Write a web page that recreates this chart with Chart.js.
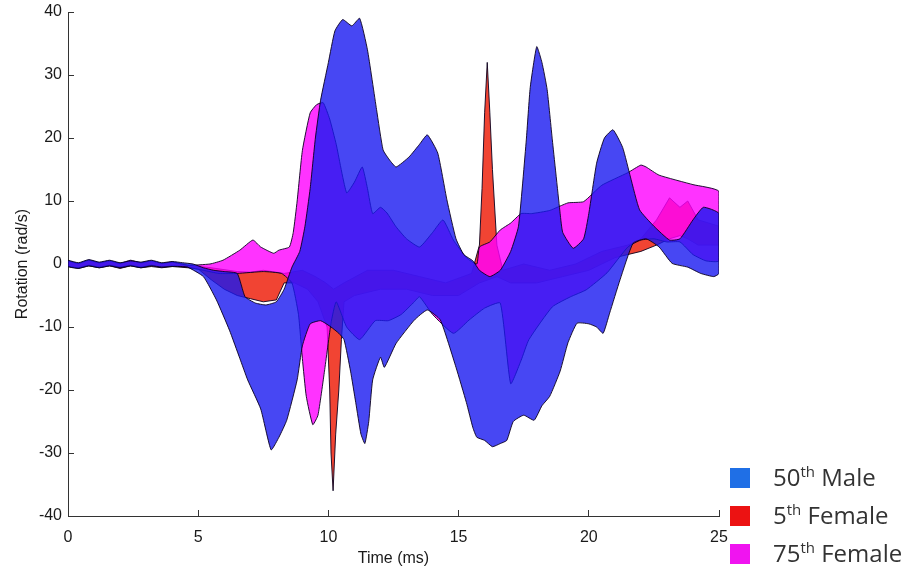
<!DOCTYPE html>
<html>
<head>
<meta charset="utf-8">
<script src="https://cdn.jsdelivr.net/npm/chart.js@4.4.0/dist/chart.umd.min.js"></script>
<style>
  body { margin: 0; background: #fff; }
  #wrap { position: relative; width: 912px; height: 573px; }
  #legend { position: absolute; left: 730px; top: 462px; font-family: "Open Sans", sans-serif; font-size: 24px; color: #333; }
  #legend div { position: relative; height: 38px; line-height: 30px; }
  #legend span.box { position: absolute; left: 0; top: 6px; width: 20px; height: 20px; }
  #legend span.txt { position: absolute; left: 43px; top: 0; white-space: nowrap; }
  #legend sup { font-size: 15px; vertical-align: 9px; line-height: 0; }
</style>
</head>
<body>
<div id="wrap">
  <canvas id="corridorChart" width="912" height="573"></canvas>
  <div id="legend"></div>
</div>
<script>
// corridor boundaries (time in ms, rotation in rad/s)
var blueTopT = [0,0.4,0.8,1.2,1.6,2.0,2.4,2.8,3.2,3.6,4.0,4.4,4.8,5.2,5.6,6.0,6.5,6.8,7.2,7.6,8.0,8.3,8.6,8.9,9.1,9.3,9.5,9.7,10.0,10.25,10.55,10.9,11.2,11.5,11.85,12.1,12.35,12.6,13.1,13.5,13.8,14.2,14.55,14.9,15.2,15.55,15.8,16.2,16.6,17.0,17.3,17.6,17.75,18.0,18.2,18.4,18.6,18.9,19.0,19.4,19.8,20.0,20.3,20.6,20.93,21.3,21.6,21.95,22.5,23.1,23.5,24.0,24.4,25];
var blueTop = [0.6,0.2,0.7,0.3,0.6,0.2,0.5,0.3,0.6,0.2,0.4,0.2,0,-0.6,-1,-1.2,-1.5,-5.2,-6.2,-6.5,-6,-4,-0.5,2,6,12,20,26,32,37,38.8,37.8,39,34,24.5,18.1,16.5,15.4,17,19,20.5,17.6,10.2,4,1.5,0.5,-1,-2,-1,2,6,19.7,28,34.5,32,27.7,19.7,8,5,2.5,4,8,16,20,21.3,18.5,13.8,8.6,6,3.8,4,7,9,8];
var blueBotT = [0,0.4,0.8,1.2,1.6,2.0,2.4,2.8,3.2,3.6,4.0,4.4,4.6,5.2,5.7,6.2,6.6,6.9,7.4,7.8,8.1,8.4,8.8,9.0,9.3,9.7,10.1,10.4,10.6,10.85,11.05,11.25,11.4,11.55,11.7,12.0,12.15,12.6,13.3,13.8,14.3,14.9,15.3,15.55,15.7,16.0,16.3,16.6,16.85,17.1,17.5,17.9,18.2,18.5,18.9,19.2,19.55,20.0,20.3,20.55,20.8,21.2,21.7,22.2,22.7,23.2,23.8,24.3,24.8,25];
var blueBot = [-0.4,-0.7,-0.3,-0.6,-0.3,-0.6,-0.3,-0.6,-0.3,-0.5,-0.4,-0.4,-0.5,-2,-5.7,-10.5,-15,-18.4,-23,-29.5,-27.5,-24.8,-18.4,-13,-9.5,-9,-10,-11,-12,-17,-22,-27,-28.5,-25,-18.4,-14.8,-16.4,-12.6,-8.9,-7.3,-8.9,-16.4,-22,-26,-27.5,-28,-29,-28.5,-28,-25,-24,-24.8,-22.5,-21,-17,-12.5,-9.4,-9.5,-10,-11,-7.8,-2.5,3.3,4,2.7,0.1,-0.5,-1.5,-2,-1.5];

var redTopT = [0,0.4,0.8,1.2,1.6,2.0,2.4,2.8,3.2,3.6,4.0,4.6,5.5,6.5,7.0,7.5,8.0,8.3,9.0,9.5,9.9,10.2,10.6,11.5,12.5,13.5,14.5,15.5,15.8,15.9,16.0,16.1,16.2,16.3,16.47,16.7,17.5,18.5,19.5,20.5,21.5,22.0,22.6,23.1,23.5,23.8,24.2,25];
var redTop = [0.4,0,0.5,0.1,0.4,0,0.5,0.1,0.4,0,0.3,-0.2,-0.6,-1.2,-1.3,-1,-1.3,-1.5,-1,-2,-3,-4,-3,-1,-1,-2,-3,-1.5,3,12,24,32,24,15,3,-1,0,-1,0,2,3,4,7,10.5,9,10,7,6];
var redBotT = [0,0.4,0.8,1.2,1.6,2.0,2.4,2.8,3.2,3.6,4.0,4.6,5.0,5.5,6.0,6.5,7.0,7.5,8.0,8.3,8.7,9.2,9.6,9.95,10.05,10.1,10.18,10.28,10.4,10.5,10.6,11.0,12.0,13.0,14.0,15.0,15.8,16.47,17.0,18.0,19.0,20.0,21.0,22.0,22.6,23.1,23.5,23.8,24.2,25];
var redBot = [-0.4,-0.7,-0.3,-0.6,-0.3,-0.7,-0.3,-0.6,-0.4,-0.6,-0.4,-0.6,-0.8,-2.5,-4,-5,-5.5,-6,-5.7,-3,-3,-4,-6,-10,-20,-30,-36,-27,-20,-12,-6,-5,-4,-4,-5,-5,-3,-2,-3,-3,-2,-1,1,2,3,4,4.5,4,3,3];

var magTopT = [0,0.4,0.8,1.2,1.6,2.0,2.4,2.8,3.2,3.6,4.0,4.6,5.45,5.95,6.6,7.1,7.4,7.9,8.1,8.5,8.65,8.8,9.0,9.3,9.55,9.8,10.05,10.3,10.7,11.0,11.3,11.5,11.7,12.0,12.25,12.6,13.0,13.5,14.0,14.4,14.8,15.3,15.7,15.8,16.2,16.6,17.0,17.4,17.8,18.5,19.2,19.8,20.5,21.5,22.0,22.2,22.7,24.0,25];
var magTop = [0.5,0.1,0.6,0.2,0.5,0.1,0.6,0.2,0.5,0.1,0.3,-0.2,0,0.6,2.2,3.8,2.7,1.7,2.2,2.7,5,10,18,24,25.3,25.6,23,19,11.3,13,15.4,12,8,9,8.1,5.9,4,2.7,5,7,3.8,1,0,2.7,3.5,5.4,6.5,8,8,8.5,9.7,9.9,12.5,14.5,15.7,15.4,14.1,12.6,11.5];
var magBotT = [0,0.4,0.8,1.2,1.6,2.0,2.4,2.8,3.2,3.6,4.0,4.6,5.2,5.8,6.5,7.5,8.2,8.6,8.85,9.0,9.15,9.4,9.6,9.85,10.1,10.3,10.7,11.2,11.8,12.3,12.8,13.3,13.5,14.0,14.8,15.4,16.0,16.6,17.0,17.4,17.7,18.6,19.3,19.9,20.7,21.5,22.0,22.5,23.0,23.5,24.0,24.5,25];
var magBot = [-0.3,-0.6,-0.2,-0.5,-0.2,-0.5,-0.2,-0.5,-0.2,-0.5,-0.3,-0.5,-1,-1.5,-1.5,-1.2,-1.5,-3,-8,-15,-21,-25.5,-24,-17,-9.4,-6,-10,-12,-9,-9,-8,-6,-5.2,-8,-11,-8.9,-7,-6.2,-19,-15.3,-12,-6.8,-5.2,-4.1,-1.4,2.7,3.8,4,3.5,3.5,1.5,0.5,0.5];

var groupNames = ['50<sup>th</sup> Male', '5<sup>th</sup> Female', '75<sup>th</sup> Female'];
var legendColors = ['#1f6fe6', '#ec1212', '#f014f0'];
var xTicks = [0, 5, 10, 15, 20, 25];
var yTicks = [-40, -30, -20, -10, 0, 10, 20, 30, 40];

// closed polygon: along the top edge, then back along the bottom edge
function band(topT, top, botT, bot) {
    var pts = topT.map(function (t, i) { return { x: t, y: top[i] }; });
    for (var i = botT.length - 1; i >= 0; i--) pts.push({ x: botT[i], y: bot[i] });
    pts.push(pts[0]);
    return pts;
}

var edge = 'rgba(10,0,30,0.9)';
var tickFont = { family: 'Liberation Sans', size: 16 };

var ctx = document.getElementById('corridorChart');
var myChart = new Chart(ctx, {
    type: 'line',
    data: {
        datasets: [
            {
                label: '50th Male',
                data: band(blueTopT, blueTop, blueBotT, blueBot),
                fill: 'shape',
                backgroundColor: 'rgba(25,25,240,0.8)',
                borderColor: edge,
                borderWidth: 1,
                tension: 0.15
            },
            {
                label: '75th Female',
                data: band(magTopT, magTop, magBotT, magBot),
                fill: 'shape',
                backgroundColor: 'rgba(255,0,255,0.8)',
                borderColor: edge,
                borderWidth: 1,
                tension: 0.15
            },
            {
                label: '5th Female',
                data: band(redTopT, redTop, redBotT, redBot),
                fill: 'shape',
                backgroundColor: 'rgba(238,35,15,0.85)',
                borderColor: edge,
                borderWidth: 1,
                tension: 0
            }
        ]
    },
    options: {
        responsive: false,
        animation: false,
        events: [],
        parsing: false,
        elements: { point: { radius: 0 } },
        layout: { padding: { left: 13, top: 12, right: 193, bottom: 5 } },
        plugins: {
            legend: { display: false },
            tooltip: { enabled: false }
        },
        scales: {
            x: {
                type: 'linear',
                min: 0,
                max: 25,
                afterBuildTicks: function (s) { s.ticks = xTicks.map(function (v) { return { value: v }; }); },
                afterFit: function (s) { s.height = 52; },
                grid: { drawOnChartArea: false, tickLength: -6, color: '#333' },
                border: { color: '#333', width: 1 },
                ticks: { font: tickFont, color: '#1a1a1a', padding: 18, maxRotation: 0 },
                title: { display: true, text: 'Time (ms)', font: tickFont, color: '#1a1a1a', padding: 0 }
            },
            y: {
                min: -40,
                max: 40,
                afterBuildTicks: function (s) { s.ticks = yTicks.map(function (v) { return { value: v }; }); },
                afterFit: function (s) { s.width = 55; s.paddingTop = 0; s.paddingBottom = 0; },
                grid: { drawOnChartArea: false, tickLength: -6, color: '#333' },
                border: { color: '#333', width: 1 },
                ticks: { font: tickFont, color: '#1a1a1a', padding: 12 },
                title: { display: true, text: 'Rotation (rad/s)', font: tickFont, color: '#1a1a1a', padding: 0 }
            }
        }
    }
});

var legend = document.getElementById('legend');
groupNames.forEach(function (name, i) {
    var row = document.createElement('div');
    row.innerHTML = '<span class="box" style="background:' + legendColors[i] + '"></span><span class="txt">' + name + '</span>';
    legend.appendChild(row);
});
</script>
</body>
</html>
